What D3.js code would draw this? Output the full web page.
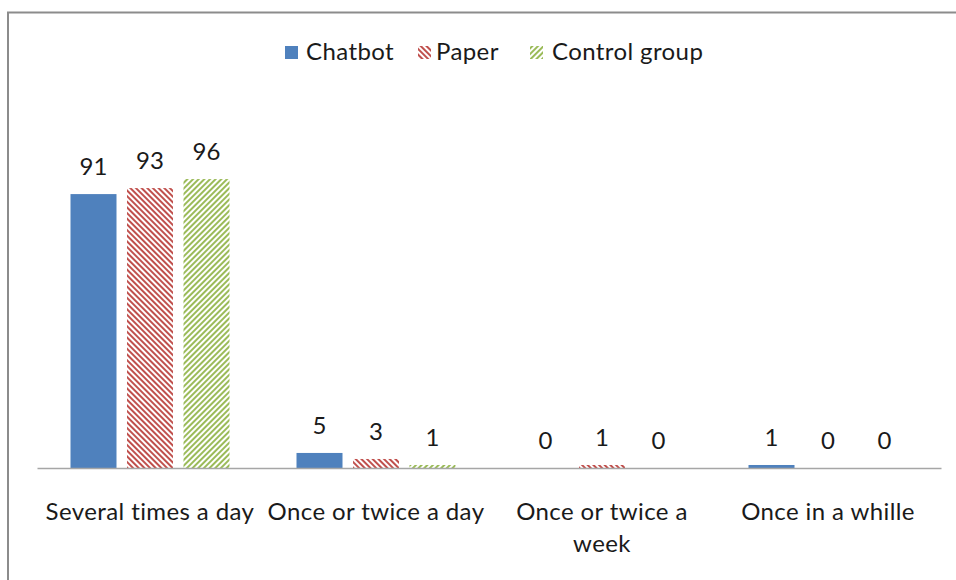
<!DOCTYPE html>
<html>
<head>
<meta charset="utf-8">
<script src="https://cdn.jsdelivr.net/npm/d3@7"></script>
<style>
  html, body { margin: 0; padding: 0; background: #fff; }
  svg { display: block; font-family: Lato, "Open Sans", sans-serif; }
</style>
</head>
<body>
<svg id="chart" width="956" height="580"></svg>
<script>
// Response categories (x axis)
const categories = ["Several times a day", "Once or twice a day", "Once or twice a week", "Once in a whille"];
// Category label lines
const categoryLines = [["Several times a day"], ["Once or twice a day"], ["Once or twice a", "week"], ["Once in a whille"]];
// Series names
const seriesNames = ["Chatbot", "Paper", "Control group"];
// Values per series, in category order
const chatbotValues = [91, 5, 0, 1];
const paperValues = [93, 3, 1, 0];
const controlValues = [96, 1, 0, 0];
const seriesValues = [chatbotValues, paperValues, controlValues];

const svg = d3.select("#chart");
const W = 956, H = 580;

// Fill patterns for the hatched series
const defs = svg.append("defs");
function hatch(id, color, angle) {
  const p = defs.append("pattern")
    .attr("id", id)
    .attr("patternUnits", "userSpaceOnUse")
    .attr("width", 4).attr("height", 4)
    .attr("patternTransform", `rotate(${angle})`);
  p.append("rect").attr("width", 4).attr("height", 4).attr("fill", "#fff");
  p.append("rect").attr("width", 2).attr("height", 4).attr("fill", color);
}
hatch("hatchPaper", "#C0504D", -45);
hatch("hatchControl", "#9BBB59", 45);

const fills = ["#4F81BD", "url(#hatchPaper)", "url(#hatchControl)"];

// Outer frame
svg.append("rect")
  .attr("x", 8).attr("y", 12.5)
  .attr("width", W + 20).attr("height", H + 20)
  .attr("fill", "none")
  .attr("stroke", "#8c8c8c")
  .attr("stroke-width", 2);

// Scales
const x0 = d3.scaleBand().domain(categories).range([37, 941]).padding(0);
const pInner = 10.5 / 56.5;
const groupW = 56.5 * (3 - pInner);
const x1 = d3.scaleBand().domain(seriesNames)
  .range([x0.bandwidth() / 2 - groupW / 2, x0.bandwidth() / 2 + groupW / 2])
  .paddingInner(pInner).paddingOuter(0);
const y = d3.scaleLinear().domain([0, 100]).range([468, 167]);

// Bars and value labels
const groups = svg.append("g").selectAll("g")
  .data(categories)
  .join("g")
  .attr("transform", d => `translate(${x0(d)},0)`);

seriesNames.forEach((s, si) => {
  groups.append("rect")
    .attr("x", x1(s))
    .attr("width", x1.bandwidth())
    .attr("y", (d, ci) => y(seriesValues[si][ci]))
    .attr("height", (d, ci) => y(0) - y(seriesValues[si][ci]))
    .attr("fill", fills[si]);

  groups.append("text")
    .attr("x", x1(s) + x1.bandwidth() / 2)
    .attr("y", (d, ci) => y(seriesValues[si][ci]) - 19)
    .attr("text-anchor", "middle")
    .attr("font-size", 24)
    .attr("fill", "#1a1a1a")
    .text((d, ci) => seriesValues[si][ci]);
});

// Category axis
const xAxis = svg.append("g")
  .attr("transform", `translate(0,${y(0)})`)
  .call(d3.axisBottom(x0).tickSize(0).tickFormat(""));
xAxis.select(".domain").attr("stroke", "#a6a6a6").attr("stroke-width", 1.5);

const labels = svg.append("g").selectAll("text")
  .data(categories)
  .join("text")
  .attr("x", d => x0(d) + x0.bandwidth() / 2)
  .attr("y", 520)
  .attr("text-anchor", "middle")
  .attr("font-size", 24)
  .attr("letter-spacing", 0.4)
  .attr("fill", "#1a1a1a");
labels.selectAll("tspan")
  .data((d, i) => categoryLines[i])
  .join("tspan")
  .attr("x", function () { return d3.select(this.parentNode).attr("x"); })
  .attr("dy", (d, i) => i === 0 ? 0 : 32)
  .text(d => d);

// Legend
const legendItems = [
  { name: seriesNames[0], sx: 285, tx: 306 },
  { name: seriesNames[1], sx: 418, tx: 436 },
  { name: seriesNames[2], sx: 530, tx: 552 }
];
const legend = svg.append("g");
legendItems.forEach((it, i) => {
  legend.append("rect")
    .attr("x", it.sx).attr("y", 46)
    .attr("width", 13).attr("height", 13)
    .attr("fill", fills[i]);
  legend.append("text")
    .attr("x", it.tx).attr("y", 60)
    .attr("font-size", 24)
    .attr("letter-spacing", 0.4)
    .attr("fill", "#1a1a1a")
    .text(it.name);
});
</script>
</body>
</html>
